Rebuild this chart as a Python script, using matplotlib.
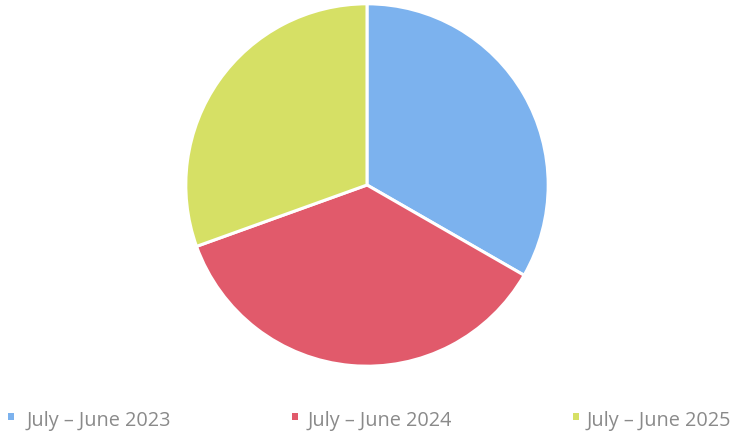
import matplotlib
matplotlib.use("Agg")
import matplotlib.pyplot as plt
from matplotlib.patches import Rectangle

# Share of each reporting period
periods = ["July – June 2023", "July – June 2024", "July – June 2025"]
shares = [33.3, 36.2, 30.5]
colors = ["#7cb2ee", "#e15a6b", "#d6e065"]

W, H, DPI = 735, 432, 100
fig = plt.figure(figsize=(W / DPI, H / DPI), dpi=DPI)
fig.patch.set_facecolor("white")

# Pie area in pixel terms: centre (367, 185), radius 183
cx, cy, r = 367, 185, 183
ax = fig.add_axes([(cx - r) / W, (H - cy - r) / H, 2 * r / W, 2 * r / H])
ax.pie(shares, colors=colors, startangle=90, counterclock=False,
       radius=1.0, wedgeprops=dict(edgecolor="white", linewidth=2.2))
ax.set_xlim(-1.01, 1.01)
ax.set_ylim(-1.01, 1.01)
ax.set_aspect("equal")
ax.axis("off")

# Legend row along the bottom
marker_x = [11, 295, 576]
text_x = [27, 308, 587]
marker_y = 416.5
baseline_y = 426
for mx, tx, label, c in zip(marker_x, text_x, periods, colors):
    fig.patches.append(Rectangle(((mx - 3) / W, (H - marker_y - 3.5) / H), 6 / W, 7 / H,
                                 transform=fig.transFigure, facecolor=c,
                                 edgecolor="none"))
    fig.text(tx / W, (H - baseline_y) / H, label, fontsize=14.3,
             family="Open Sans", color="#8a8a8a",
             va="baseline", ha="left")

fig.savefig("out.png", dpi=DPI, facecolor="white")
